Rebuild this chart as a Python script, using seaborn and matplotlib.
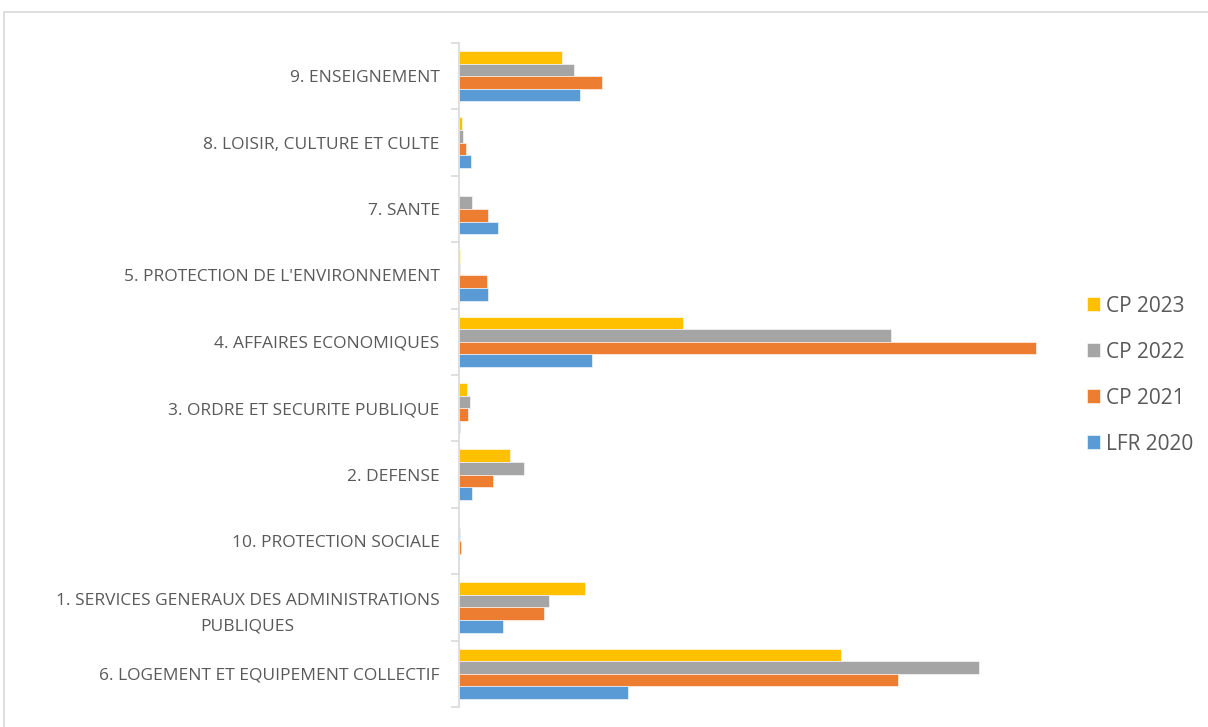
import matplotlib
matplotlib.use("Agg")
import matplotlib.pyplot as plt
import seaborn as sns
import pandas as pd
from matplotlib.patches import Rectangle

categories = [
    "9. ENSEIGNEMENT",
    "8. LOISIR, CULTURE ET CULTE",
    "7. SANTE",
    "5. PROTECTION DE L'ENVIRONNEMENT",
    "4. AFFAIRES ECONOMIQUES",
    "3. ORDRE ET SECURITE PUBLIQUE",
    "2. DEFENSE",
    "10. PROTECTION SOCIALE",
    "1. SERVICES GENERAUX DES ADMINISTRATIONS\nPUBLIQUES",
    "6. LOGEMENT ET EQUIPEMENT COLLECTIF",
]
series = ["CP 2023", "CP 2022", "CP 2021", "LFR 2020"]
cp2023 = [103.4, 3.4, 0.3, 1.4, 223.7, 8.0, 51.4, 0.3, 126.0, 382.0]
cp2022 = [115.4, 3.9, 13.0, 0.7, 431.7, 11.0, 65.0, 0.7, 90.0, 520.0]
cp2021 = [143.4, 7.4, 29.0, 27.7, 577.4, 9.0, 33.7, 2.4, 85.0, 439.0]
lfr2020 = [120.7, 11.7, 39.0, 28.7, 133.0, 1.0, 12.7, 0.0, 44.4, 169.0]
colors = ["#FFC000", "#A5A5A5", "#ED7D31", "#5B9BD5"]

rows = []
for name, vals in zip(series, [cp2023, cp2022, cp2021, lfr2020]):
    for c, v in zip(categories, vals):
        rows.append({"cat": c, "serie": name, "val": v})
df = pd.DataFrame(rows)

sns.set_theme(style="white")
plt.rcParams["font.family"] = ["Open Sans", "DejaVu Sans"]

fig = plt.figure(figsize=(12.08, 7.27), dpi=100)
fig.patch.set_facecolor("white")
fig.patches.append(Rectangle((4 / 1208, -0.1), 1.2, (727 - 12) / 727 + 0.1,
                             transform=fig.transFigure, fill=False,
                             edgecolor="#D9D9D9", linewidth=1.2))

ax = fig.add_axes([459 / 1208, 20 / 727, 600 / 1208, (707 - 43) / 727])
sns.barplot(data=df, y="cat", x="val", hue="serie", order=categories,
            hue_order=series, palette=colors, saturation=1, orient="h",
            width=0.76, edgecolor="white", linewidth=0.4, ax=ax, legend=True)

ax.set_xlim(0, 600)
ax.set_ylim(9.5, -0.5)
ax.set_xlabel("")
ax.set_ylabel("")
ax.set_xticks([])
for s in ["top", "right", "bottom"]:
    ax.spines[s].set_visible(False)
ax.spines["left"].set_color("#D9D9D9")
ax.spines["left"].set_linewidth(1.2)

ax.tick_params(axis="y", which="major", length=0, pad=14, labelsize=12.5,
               labelcolor="#595959")
for lbl in ax.get_yticklabels():
    lbl.set_multialignment("center")
    lbl.set_linespacing(1.75)
ax.set_yticks([i - 0.5 for i in range(11)], minor=True)
ax.tick_params(axis="y", which="minor", length=6, width=1.2, color="#D9D9D9",
               left=True)

ax.legend(loc="center left", bbox_to_anchor=(1068 / 1208, 1 - 375 / 727),
          bbox_transform=fig.transFigure, frameon=False, fontsize=15,
          labelcolor="#595959", handlelength=0.62, handleheight=0.62,
          handletextpad=0.3, labelspacing=1.2)

fig.savefig("out.png", dpi=100, facecolor="white")
